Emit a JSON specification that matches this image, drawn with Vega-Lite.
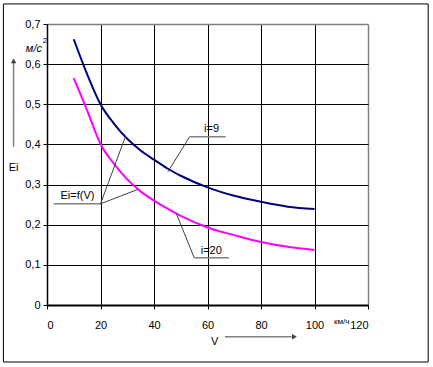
{
  "$schema": "https://vega.github.io/schema/vega-lite/v6.json",
  "autosize": "none",
  "width": 321,
  "height": 281,
  "padding": {"left": 47, "top": 24, "right": 65, "bottom": 62},
  "background": "white",
  "config": {
    "view": {"stroke": null},
    "font": "Liberation Sans",
    "text": {"font": "Liberation Sans", "fontSize": 11, "color": "black"}
  },
  "datasets": {
    "curves": [
      {"V": 10, "E": 0.662, "s": "i=9"}, {"V": 15, "E": 0.575, "s": "i=9"}, {"V": 20, "E": 0.5, "s": "i=9"},
      {"V": 25, "E": 0.452, "s": "i=9"}, {"V": 30, "E": 0.414, "s": "i=9"}, {"V": 35, "E": 0.385, "s": "i=9"},
      {"V": 40, "E": 0.362, "s": "i=9"}, {"V": 45, "E": 0.34, "s": "i=9"}, {"V": 50, "E": 0.322, "s": "i=9"},
      {"V": 60, "E": 0.293, "s": "i=9"}, {"V": 70, "E": 0.272, "s": "i=9"}, {"V": 80, "E": 0.257, "s": "i=9"},
      {"V": 90, "E": 0.245, "s": "i=9"}, {"V": 100, "E": 0.239, "s": "i=9"},
      {"V": 10, "E": 0.565, "s": "i=20"}, {"V": 15, "E": 0.485, "s": "i=20"}, {"V": 20, "E": 0.401, "s": "i=20"},
      {"V": 25, "E": 0.352, "s": "i=20"}, {"V": 30, "E": 0.313, "s": "i=20"}, {"V": 35, "E": 0.283, "s": "i=20"},
      {"V": 40, "E": 0.26, "s": "i=20"}, {"V": 45, "E": 0.24, "s": "i=20"}, {"V": 50, "E": 0.222, "s": "i=20"},
      {"V": 60, "E": 0.193, "s": "i=20"}, {"V": 70, "E": 0.174, "s": "i=20"}, {"V": 80, "E": 0.157, "s": "i=20"},
      {"V": 90, "E": 0.145, "s": "i=20"}, {"V": 100, "E": 0.137, "s": "i=20"}
    ]
  },
  "encoding": {
    "x": {"type": "quantitative"},
    "y": {"type": "quantitative"}
  },
  "layer": [
    {
      "data": {"values": [{"x1": -16.3, "x2": 142.5, "y1": 0.75, "y2": -0.142}]},
      "mark": {"type": "rect", "fillOpacity": 0, "stroke": "black", "strokeWidth": 1},
      "encoding": {
        "x": {"field": "x1", "type": "quantitative", "scale": {"domain": [0, 120], "nice": false, "zero": false},
          "axis": {"values": [0, 20, 40, 60, 80, 100, 120], "title": null, "grid": true, "gridColor": {"condition": {"test": "datum.value == 120", "value": "#808080"}, "value": "black"}, "gridWidth": {"condition": {"test": "datum.value == 120", "value": 1.5}, "value": 1}, "domainColor": "black", "domainWidth": 2, "tickColor": "black", "tickSize": 4, "labelPadding": 10, "labelFontSize": 11, "labelColor": "black", "labelFont": "Liberation Sans"}},
        "x2": {"field": "x2"},
        "y": {"field": "y1", "type": "quantitative", "scale": {"domain": [0, 0.7], "nice": false, "zero": false},
          "axis": {"values": [0, 0.1, 0.2, 0.3, 0.4, 0.5, 0.6, 0.7], "title": null, "grid": true, "gridColor": {"condition": {"test": "datum.value > 0.69", "value": "#808080"}, "value": "black"}, "gridWidth": {"condition": {"test": "datum.value > 0.69", "value": 1.5}, "value": 1}, "domainColor": "black", "domainWidth": 1.5, "tickColor": "black", "tickSize": 4, "labelPadding": 3, "labelFontSize": 11, "labelColor": "black", "labelFont": "Liberation Sans", "labelExpr": "datum.value == 0 ? '0' : replace(format(datum.value, '.1f'), '.', ',')"}},
        "y2": {"field": "y2"}
      }
    },
    {
      "data": {"name": "curves"},
      "mark": {"type": "line", "interpolate": "monotone", "strokeWidth": 2},
      "encoding": {
        "x": {"field": "V", "type": "quantitative"},
        "y": {"field": "E", "type": "quantitative"},
        "color": {"field": "s", "type": "nominal", "scale": {"domain": ["i=9", "i=20"], "range": ["#000080", "#FF00FF"]}, "legend": null}
      }
    },
    {
      "data": {"values": [
        {"a": 53.3, "b": 66.8, "e1": 0.419, "e2": 0.419},
        {"a": 55, "b": 68, "e1": 0.118, "e2": 0.118},
        {"a": 2.5, "b": 20, "e1": 0.252, "e2": 0.252}
      ]},
      "mark": {"type": "rule", "color": "#808080", "strokeWidth": 1.5},
      "encoding": {
        "x": {"field": "a", "type": "quantitative"}, "x2": {"field": "b"},
        "y": {"field": "e1", "type": "quantitative"}, "y2": {"field": "e2"}
      }
    },
    {
      "data": {"values": [
        {"a": 53.3, "b": 45.2, "e1": 0.419, "e2": 0.332},
        {"a": 20, "b": 34, "e1": 0.252, "e2": 0.288},
        {"a": 20, "b": 29.4, "e1": 0.252, "e2": 0.421},
        {"a": 55, "b": 48.4, "e1": 0.118, "e2": 0.227}
      ]},
      "mark": {"type": "rule", "color": "#404040", "strokeWidth": 1},
      "encoding": {
        "x": {"field": "a", "type": "quantitative"}, "x2": {"field": "b"},
        "y": {"field": "e1", "type": "quantitative"}, "y2": {"field": "e2"}
      }
    },
    {
      "data": {"values": [
        {"a": -12.5, "b": -12.5, "e1": 0.394, "e2": 0.605},
        {"a": 66.5, "b": 91.5, "e1": -0.079, "e2": -0.079}
      ]},
      "mark": {"type": "rule", "color": "#808080", "strokeWidth": 1.5},
      "encoding": {
        "x": {"field": "a", "type": "quantitative"}, "x2": {"field": "b"},
        "y": {"field": "e1", "type": "quantitative"}, "y2": {"field": "e2"}
      }
    },
    {
      "data": {"values": [{"V": -12.5, "E": 0.608}]},
      "mark": {"type": "point", "shape": "triangle-up", "filled": true, "color": "#404040", "size": 30, "opacity": 1},
      "encoding": {"x": {"field": "V", "type": "quantitative"}, "y": {"field": "E", "type": "quantitative"}}
    },
    {
      "data": {"values": [{"V": 92.5, "E": -0.079}]},
      "mark": {"type": "point", "shape": "triangle-right", "filled": true, "color": "#404040", "size": 30, "opacity": 1},
      "encoding": {"x": {"field": "V", "type": "quantitative"}, "y": {"field": "E", "type": "quantitative"}}
    },
    {
      "data": {"values": [
        {"V": 61.5, "E": 0.432, "t": "i=9"},
        {"V": 61.4, "E": 0.127, "t": "i=20"},
        {"V": 11.4, "E": 0.264, "t": "Ei=f(V)"},
        {"V": -12.5, "E": 0.335, "t": "Ei"},
        {"V": 62.7, "E": -0.1, "t": "V"}
      ]},
      "mark": {"type": "text", "align": "center", "baseline": "alphabetic", "fontSize": 11},
      "encoding": {"x": {"field": "V", "type": "quantitative"}, "y": {"field": "E", "type": "quantitative"}, "text": {"field": "t"}}
    },
    {
      "data": {"values": [{"V": 110.2, "E": -0.047, "t": "км/ч"}]},
      "mark": {"type": "text", "align": "center", "baseline": "alphabetic", "fontSize": 8},
      "encoding": {"x": {"field": "V", "type": "quantitative"}, "y": {"field": "E", "type": "quantitative"}, "text": {"field": "t"}}
    },
    {
      "data": {"values": [{"V": -4.9, "E": 0.631, "t": "м/с"}]},
      "mark": {"type": "text", "align": "center", "baseline": "alphabetic", "fontSize": 11, "fontStyle": "italic"},
      "encoding": {"x": {"field": "V", "type": "quantitative"}, "y": {"field": "E", "type": "quantitative"}, "text": {"field": "t"}}
    },
    {
      "data": {"values": [{"V": -0.8, "E": 0.653, "t": "2"}]},
      "mark": {"type": "text", "align": "center", "baseline": "alphabetic", "fontSize": 8},
      "encoding": {"x": {"field": "V", "type": "quantitative"}, "y": {"field": "E", "type": "quantitative"}, "text": {"field": "t"}}
    }
  ]
}
